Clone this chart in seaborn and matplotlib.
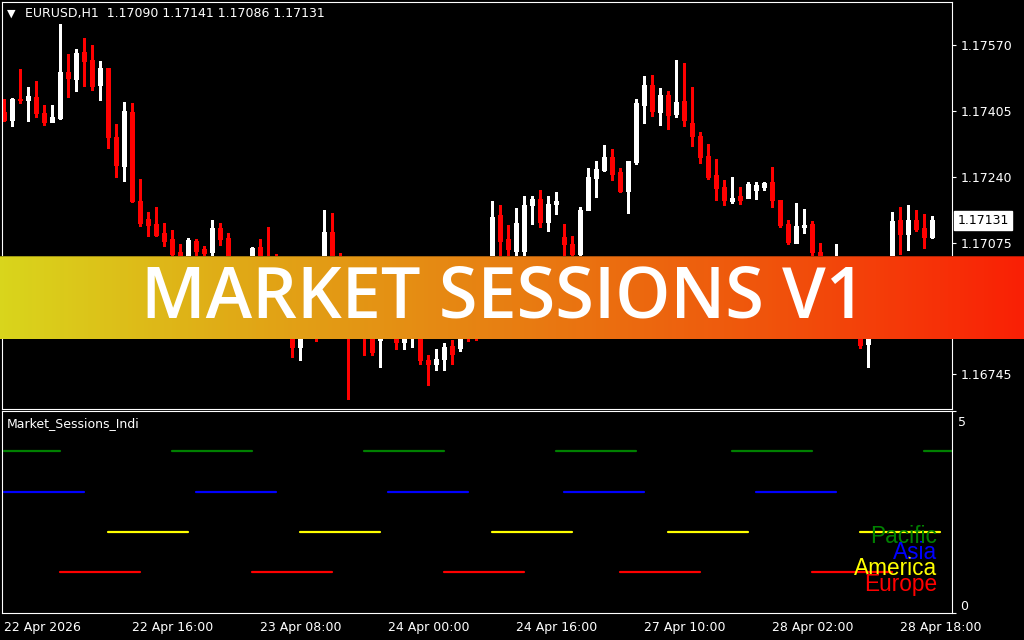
import numpy as np
import pandas as pd
import seaborn as sns
import matplotlib.pyplot as plt
from matplotlib.colors import LinearSegmentedColormap
import matplotlib.transforms as mtransforms

# EURUSD H1 candles
opens = [1.17403, 1.17383, 1.17435, 1.17433, 1.17440, 1.17400, 1.17378, 1.17388, 1.17503, 1.17486,
         1.17553, 1.17533, 1.17471, 1.17513, 1.17340, 1.17267, 1.17403, 1.17180, 1.17134, 1.17122,
         1.17099, 1.17084, 1.17052, 1.17026, 1.17079, 1.17059, 1.17052, 1.17112, 1.17087, 1.16976,
         1.16951, 1.16956, 1.17064, 1.16956, 1.16918, 1.16893, 1.16868, 1.16813, 1.16881, 1.16931,
         1.16881, 1.17102, 1.16931, 1.16906, 1.16868, 1.16931, 1.16856, 1.16831, 1.16893, 1.16906,
         1.16826, 1.16886, 1.16918, 1.16780, 1.16770, 1.16783, 1.16815, 1.16810, 1.16881, 1.16856,
         1.16843, 1.16931, 1.17144, 1.17084, 1.17054, 1.17054, 1.17169, 1.17184, 1.17127, 1.17172,
         1.17089, 1.17072, 1.17047, 1.17157, 1.17237, 1.17257, 1.17290, 1.17252, 1.17205, 1.17277,
         1.17420, 1.17471, 1.17403, 1.17446, 1.17398, 1.17430, 1.17375, 1.17343, 1.17292, 1.17245,
         1.17215, 1.17180, 1.17192, 1.17187, 1.17207, 1.17215, 1.17227, 1.17182, 1.17122, 1.17074,
         1.17114, 1.17122, 1.17052, 1.16956, 1.16906, 1.16944, 1.16906, 1.16868, 1.16821, 1.16881,
         1.16931, 1.16981, 1.17132, 1.17097, 1.17132, 1.17112, 1.17090]
highs = [1.17435, 1.17438, 1.17511, 1.17466, 1.17481, 1.17420, 1.17420, 1.17624, 1.17548, 1.17561,
         1.17589, 1.17571, 1.17531, 1.17513, 1.17373, 1.17428, 1.17425, 1.17235, 1.17152, 1.17164,
         1.17124, 1.17107, 1.17072, 1.17087, 1.17084, 1.17067, 1.17132, 1.17124, 1.17099, 1.17026,
         1.17026, 1.17064, 1.17084, 1.17114, 1.17047, 1.17019, 1.16931, 1.16931, 1.16981, 1.16981,
         1.17157, 1.17149, 1.17049, 1.16956, 1.16981, 1.16969, 1.16931, 1.16931, 1.16956, 1.16944,
         1.16931, 1.16956, 1.16936, 1.16793, 1.16808, 1.16823, 1.16831, 1.16906, 1.16931, 1.16931,
         1.16956, 1.17180, 1.17169, 1.17119, 1.17162, 1.17192, 1.17192, 1.17207, 1.17192, 1.17202,
         1.17122, 1.17092, 1.17164, 1.17262, 1.17280, 1.17320, 1.17310, 1.17262, 1.17280, 1.17435,
         1.17493, 1.17496, 1.17463, 1.17456, 1.17533, 1.17526, 1.17466, 1.17353, 1.17323, 1.17285,
         1.17232, 1.17240, 1.17215, 1.17227, 1.17227, 1.17227, 1.17265, 1.17182, 1.17132, 1.17175,
         1.17159, 1.17129, 1.17074, 1.17019, 1.17072, 1.17006, 1.16969, 1.16931, 1.16906, 1.16956,
         1.17006, 1.17152, 1.17164, 1.17169, 1.17157, 1.17147, 1.17141]
lows = [1.17380, 1.17368, 1.17425, 1.17380, 1.17390, 1.17370, 1.17378, 1.17385, 1.17440, 1.17456,
        1.17468, 1.17458, 1.17433, 1.17313, 1.17240, 1.17230, 1.17177, 1.17117, 1.17092, 1.17092,
        1.17067, 1.17044, 1.17026, 1.17011, 1.17044, 1.17041, 1.17039, 1.17069, 1.16956, 1.16931,
        1.16931, 1.16941, 1.16931, 1.16901, 1.16881, 1.16843, 1.16788, 1.16780, 1.16856, 1.16828,
        1.16856, 1.16906, 1.16881, 1.16682, 1.16843, 1.16793, 1.16793, 1.16763, 1.16856, 1.16808,
        1.16808, 1.16813, 1.16770, 1.16718, 1.16755, 1.16755, 1.16770, 1.16803, 1.16828, 1.16831,
        1.16843, 1.16906, 1.17036, 1.17044, 1.17036, 1.17036, 1.17122, 1.17114, 1.17104, 1.17147,
        1.17041, 1.17044, 1.17041, 1.17157, 1.17190, 1.17255, 1.17232, 1.17202, 1.17149, 1.17272,
        1.17375, 1.17393, 1.17370, 1.17360, 1.17390, 1.17368, 1.17318, 1.17275, 1.17235, 1.17182,
        1.17169, 1.17175, 1.17172, 1.17187, 1.17184, 1.17207, 1.17164, 1.17114, 1.17072, 1.17074,
        1.17099, 1.17044, 1.16931, 1.16881, 1.16868, 1.16881, 1.16843, 1.16810, 1.16763, 1.16856,
        1.16906, 1.16956, 1.17047, 1.17057, 1.17104, 1.17062, 1.17086]
closes = [1.17383, 1.17435, 1.17433, 1.17443, 1.17400, 1.17378, 1.17390, 1.17503, 1.17488, 1.17551,
          1.17531, 1.17468, 1.17513, 1.17340, 1.17270, 1.17405, 1.17180, 1.17124, 1.17119, 1.17094,
          1.17079, 1.17047, 1.17036, 1.17082, 1.17054, 1.17049, 1.17112, 1.17084, 1.16976, 1.16951,
          1.16956, 1.17062, 1.16956, 1.16918, 1.16893, 1.16868, 1.16813, 1.16881, 1.16931, 1.16881,
          1.17102, 1.16931, 1.16906, 1.16868, 1.16931, 1.16856, 1.16800, 1.16893, 1.16906, 1.16826,
          1.16886, 1.16931, 1.16780, 1.16770, 1.16783, 1.16813, 1.16795, 1.16881, 1.16856, 1.16843,
          1.16931, 1.17139, 1.17079, 1.17059, 1.17124, 1.17169, 1.17184, 1.17127, 1.17172, 1.17180,
          1.17072, 1.17047, 1.17157, 1.17240, 1.17260, 1.17290, 1.17247, 1.17205, 1.17280, 1.17425,
          1.17471, 1.17405, 1.17446, 1.17395, 1.17428, 1.17383, 1.17343, 1.17290, 1.17240, 1.17212,
          1.17182, 1.17187, 1.17182, 1.17222, 1.17220, 1.17225, 1.17182, 1.17119, 1.17077, 1.17117,
          1.17119, 1.17052, 1.16956, 1.16918, 1.16944, 1.16906, 1.16868, 1.16818, 1.16881, 1.16931,
          1.16981, 1.17129, 1.17097, 1.17132, 1.17109, 1.17089, 1.17131]

tick_bars = [0, 16, 32, 48, 64, 80, 96, 112]
tick_labels = ["22 Apr 2026", "22 Apr 16:00", "23 Apr 08:00", "24 Apr 00:00",
               "24 Apr 16:00", "27 Apr 10:00", "28 Apr 02:00", "28 Apr 18:00"]
price_ticks = [1.16745, 1.16910, 1.17075, 1.17240, 1.17405, 1.17570]

# session indicator: (first bar, last bar) of each session line
sessions = ["Pacific", "Asia", "America", "Europe"]
session_levels = [4, 3, 2, 1]
session_colors = ["#008000", "#0000ff", "#ffff00", "#ff0000"]
pacific_bars = [(0, 7), (21, 31), (45, 55), (69, 79), (91, 101), (115, 125)]
asia_bars = [(0, 10), (24, 34), (48, 58), (70, 80), (94, 104)]
america_bars = [(13, 23), (37, 47), (61, 71), (83, 93), (107, 117)]
europe_bars = [(7, 17), (31, 41), (55, 65), (77, 87), (101, 111)]

title = "EURUSD,H1  1.17090 1.17141 1.17086 1.17131"
banner_text = "MARKET SESSIONS V1"
banner_colors = ["#d9d51c", "#e1a616", "#e87e12", "#f0540c", "#fa2005"]

sns.set_theme(style="dark", rc={"axes.facecolor": "black", "figure.facecolor": "black",
                                "axes.edgecolor": "white", "axes.grid": False})
plt.rcParams["font.family"] = ["DejaVu Sans"]

W, H = 1024, 640
fig = plt.figure(figsize=(W / 100, H / 100), dpi=100, facecolor="black")
ax = fig.add_axes([2 / W, 1 - 409 / H, 950 / W, 407 / H])
ax2 = fig.add_axes([2 / W, 1 - 612.5 / H, 950 / W, 201.5 / H])

# candles: wick 1 px, body 5 px
x = np.arange(len(opens))
o, hi, lo, c = map(np.array, (opens, highs, lows, closes))
col = ["white" if cc >= oo else "#ff0000" for oo, cc in zip(o, c)]
body_lo = np.minimum(o, c)
body_hi = np.maximum(np.maximum(o, c), body_lo + 0.00003)
ax.vlines(x, lo, hi, colors=col, linewidth=0.75, antialiased=False)
ax.vlines(x, body_lo, body_hi, colors=col, linewidth=3.6, antialiased=False)

xlim = (-0.25, 118.5)
ax.set_xlim(*xlim)
ax.set_ylim(1.16657, 1.17679)
ax.set_xticks([])
ax.yaxis.tick_right()
ax.set_yticks(price_ticks)
ax.set_yticklabels([f"{p:.5f}" for p in price_ticks])

# current price label
trans = mtransforms.blended_transform_factory(ax.transAxes, ax.transData)
ax.text(1.0055, closes[-1], f"{closes[-1]:.5f}", transform=trans, ha="left", va="center",
        color="black", fontsize=9,
        bbox=dict(facecolor="white", edgecolor="white", boxstyle="square,pad=0.25"))

# sessions panel
rows = []
for name, level, segs in zip(sessions, session_levels,
                              [pacific_bars, asia_bars, america_bars, europe_bars]):
    for k, (a, b) in enumerate(segs):
        rows.append({"bar": a, "level": level, "session": name, "seg": f"{name}{k}"})
        rows.append({"bar": b, "level": level, "session": name, "seg": f"{name}{k}"})
df = pd.DataFrame(rows)
sns.lineplot(data=df, x="bar", y="level", hue="session", units="seg", estimator=None,
             palette=dict(zip(sessions, session_colors)), linewidth=1.6, legend=False, ax=ax2)
ax2.set_xlim(*xlim)
ax2.set_ylim(0, 5)
ax2.set_xlabel("")
ax2.set_ylabel("")
ax2.yaxis.tick_right()
ax2.set_yticks([0, 5])
ax2.set_yticklabels(["0", ""])
ax2.get_yticklabels()[0].set_va("bottom")
ax2.set_xticks(tick_bars)
ax2.set_xticklabels(tick_labels, ha="left")

for a in (ax, ax2):
    a.set_facecolor("black")
    for s in a.spines.values():
        s.set_color("white")
        s.set_linewidth(0.8)
    a.tick_params(colors="white", labelcolor="white", labelsize=9, length=3, width=0.8,
                  direction="out", pad=3)
ax.tick_params(axis="x", length=0)

# titles, scale label and legend texts
fig.text(7 / W, 1 - 14 / H, "\u25bc", color="white", fontsize=8, va="center")
fig.text(25 / W, 1 - 14 / H, title, color="white", fontsize=9, va="center")
fig.text(7 / W, 1 - 424 / H, "Market_Sessions_Indi", color="white", fontsize=9, va="center")
fig.text(958 / W, 1 - 422 / H, "5", color="white", fontsize=9, va="center")
for name, color, base in zip(sessions, session_colors, [543, 559, 575, 591]):
    fig.text(937 / W, 1 - base / H, name, color=color, fontsize=16.3,
             family="Liberation Sans", ha="right", va="baseline", zorder=4)

# banner
bax = fig.add_axes([0, 1 - 338.7 / H, 1, 82.4 / H])
cmap = LinearSegmentedColormap.from_list("banner", banner_colors)
grad = cmap(np.linspace(0, 1, W))[:, :3]
img = np.repeat(grad[np.newaxis, :, :], 82, axis=0)
img[0] = img[0] * 0.72
bax.imshow(img, aspect="auto", extent=[0, 1, 0, 1], interpolation="nearest")
bax.axis("off")
fig.text(503.5 / W, 1 - 318 / H, banner_text, color="white", fontsize=50.5,
         family="Open Sans", weight="semibold", ha="center", va="baseline", zorder=6)

fig.savefig("out.png", dpi=100, facecolor="black")
